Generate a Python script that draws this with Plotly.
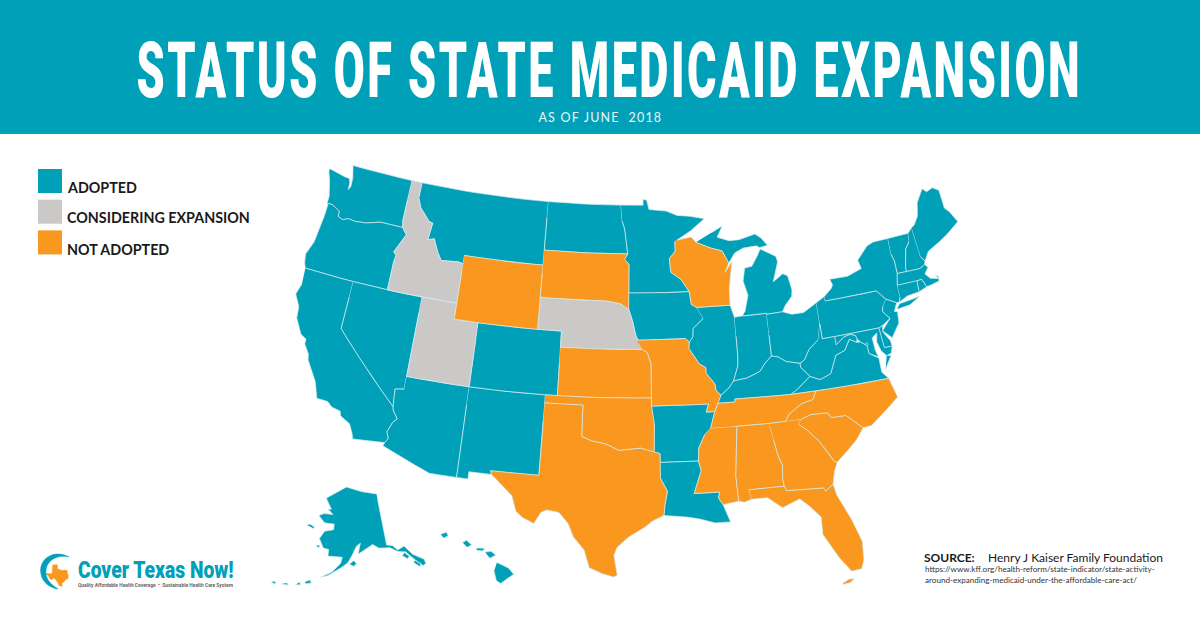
import math
import plotly.graph_objects as go

TEAL = "#00a0b8"
GREY = "#cbc9c7"
ORANGE = "#f9971f"
BORDER = "#d5ecef"

TITLE = "STATUS OF STATE MEDICAID EXPANSION"
SUBTITLE = "AS OF JUNE  2018"
LEGEND_LABELS = ["ADOPTED", "CONSIDERING EXPANSION", "NOT ADOPTED"]
LEGEND_COLORS = [TEAL, GREY, ORANGE]

ADOPTED = ["WA", "OR", "CA", "NV", "AZ", "NM", "CO", "MT", "ND", "MN", "IA", "IL", "IN", "MI", "OH", "PA", "NY", "VT",
           "NH", "ME", "MA", "RI", "CT", "NJ", "DE", "MD", "DC", "VA", "WV", "KY", "AR", "LA", "AK", "HI"]
CONSIDERING = ["ID", "UT", "NE"]
NOT_ADOPTED = ["WY", "SD", "WI", "KS", "MO", "OK", "TX", "MS", "AL", "GA", "SC", "NC", "TN", "FL"]

# state outlines, (lon, lat) rings
WA = [[(-124.73,48.38),(-123.1,48.15),(-122.75,48.15),(-122.6,47.9),(-122.55,47.45),(-122.4,47.7),(-122.45,48.25),(-122.75,49),(-117.03,49),(-117.04,46.42),(-116.92,45.995),(-118.98,46),(-119.3,45.93),(-120.2,45.73),(-121.2,45.65),(-121.8,45.7),(-122.3,45.55),(-122.76,45.65),(-122.8,46),(-123.2,46.15),(-123.55,46.26),(-124.05,46.27),(-124.05,46.7),(-124.15,46.95),(-124.4,47.6),(-124.73,48.17)]]
OR = [[(-124.05,46.27),(-123.55,46.26),(-123.2,46.15),(-122.8,46),(-122.76,45.65),(-122.3,45.55),(-121.8,45.7),(-121.2,45.65),(-120.2,45.73),(-119.3,45.93),(-118.98,46),(-116.92,45.995),(-116.46,45.6),(-116.85,44.97),(-117.22,44.4),(-116.95,44.2),(-117.03,43.8),(-117.03,42),(-124.21,42),(-124.4,42.3),(-124.55,42.84),(-124.15,43.7),(-124.05,44.7),(-123.95,45.5),(-123.95,46.2)]]
CA = [[(-124.21,42),(-120,42),(-120,39),(-114.63,35),(-114.57,34.8),(-114.14,34.3),(-114.43,34.05),(-114.72,33.4),(-114.52,33.03),(-114.72,32.72),(-117.12,32.53),(-117.25,32.85),(-117.6,33.4),(-118.4,33.75),(-118.5,34.03),(-119.2,34.15),(-119.6,34.42),(-120.47,34.45),(-120.65,34.9),(-120.9,35.4),(-121.9,36.6),(-122,36.95),(-122.5,37.5),(-122.5,37.8),(-123,38),(-123.7,38.9),(-123.8,39.6),(-124.35,40.3),(-124.1,41)]]
NV = [[(-120,42),(-114.04,42),(-114.05,36.2),(-114.75,36.1),(-114.63,35),(-120,39)]]
ID = [[(-117.03,49),(-116.05,49),(-116.05,48),(-115.7,47.45),(-114.7,46.7),(-114.35,46.65),(-114.5,45.57),(-113.95,45.7),(-113.45,44.95),(-113,44.45),(-111.5,44.55),(-111.05,44.48),(-111.05,42),(-117.03,42),(-117.03,43.8),(-116.95,44.2),(-117.22,44.4),(-116.85,44.97),(-116.46,45.6),(-116.92,45.995),(-117.04,46.42)]]
MT = [[(-116.05,49),(-104.05,49),(-104.05,45),(-111.05,45),(-111.05,44.48),(-111.5,44.55),(-113,44.45),(-113.45,44.95),(-113.95,45.7),(-114.5,45.57),(-114.35,46.65),(-114.7,46.7),(-115.7,47.45),(-116.05,48)]]
WY = [[(-111.05,45),(-104.05,45),(-104.05,41),(-111.05,41)]]
UT = [[(-114.04,42),(-111.05,42),(-111.05,41),(-109.05,41),(-109.05,37),(-114.05,37)]]
CO = [[(-109.05,41),(-102.05,41),(-102.05,37),(-109.05,37)]]
AZ = [[(-114.05,37),(-109.05,37),(-109.05,31.33),(-111.07,31.33),(-114.81,32.5),(-114.72,32.72),(-114.52,33.03),(-114.72,33.4),(-114.43,34.05),(-114.14,34.3),(-114.57,34.8),(-114.63,35),(-114.75,36.1),(-114.05,36.2)]]
NM = [[(-109.05,37),(-103,37),(-103.04,32),(-106.62,32),(-106.53,31.78),(-108.21,31.78),(-108.21,31.33),(-109.05,31.33)]]
ND = [[(-104.05,49),(-97.23,49),(-97.1,48),(-96.85,47.5),(-96.56,45.94),(-104.05,45.94)]]
SD = [[(-104.05,45.94),(-96.56,45.94),(-96.85,45.6),(-96.45,45.3),(-96.45,43.5),(-96.45,42.5),(-97.2,42.85),(-98.5,43),(-104.05,43)]]
NE = [[(-104.05,43),(-98.5,43),(-97.2,42.85),(-96.45,42.5),(-96.1,41.7),(-95.9,41),(-95.31,40),(-102.05,40),(-102.05,41),(-104.05,41)]]
KS = [[(-102.05,40),(-95.31,40),(-94.9,39.8),(-94.61,39.1),(-94.62,37),(-102.05,37)]]
OK = [[(-103,37),(-94.62,37),(-94.62,36.5),(-94.43,35.4),(-94.48,33.64),(-95.5,33.9),(-97.15,33.75),(-98.1,34.13),(-99.2,34.3),(-100,34.56),(-100,36.5),(-103,36.5)]]
TX = [[(-103,36.5),(-100,36.5),(-100,34.56),(-99.2,34.3),(-98.1,34.13),(-97.15,33.75),(-95.5,33.9),(-94.48,33.64),(-94.04,33.55),(-94.04,33),(-94.04,32),(-93.55,31.2),(-93.75,30.4),(-93.85,29.7),(-94.7,29.35),(-95.2,29),(-96.4,28.35),(-97.2,27.7),(-97.4,27.2),(-97.15,25.96),(-97.4,25.85),(-98.2,26.05),(-99.1,26.4),(-99.5,27.5),(-100.3,28.3),(-100.7,29.1),(-101.4,29.77),(-102.3,29.88),(-102.7,29.7),(-103.15,28.98),(-104,29.3),(-104.5,29.65),(-104.9,30.6),(-106,31.4),(-106.53,31.78),(-106.62,32),(-103.04,32)]]
MN = [[(-97.23,49),(-95.15,49),(-95.15,49.38),(-94.8,49.3),(-94.6,48.72),(-93,48.6),(-92,48.3),(-90.8,48.2),(-89.5,48),(-90.8,47.3),(-92.1,46.75),(-92.3,46.65),(-92.29,46.07),(-92.85,45.6),(-92.75,44.75),(-91.9,44.3),(-91.22,43.5),(-96.45,43.5),(-96.45,45.3),(-96.85,45.6),(-96.56,45.94),(-96.85,47.5),(-97.1,48)]]
IA = [[(-96.45,43.5),(-91.22,43.5),(-91.1,42.7),(-90.65,42.5),(-90.15,41.8),(-91.05,41.2),(-91.1,40.7),(-91.42,40.38),(-91.73,40.61),(-95.77,40.58),(-95.9,41),(-96.1,41.7),(-96.45,42.5)]]
MO = [[(-95.77,40.58),(-91.73,40.61),(-91.42,40.38),(-91.5,40),(-90.7,39),(-90.2,38.75),(-90.2,38.4),(-89.55,37.7),(-89.5,37.3),(-89.13,36.98),(-89.4,36.5),(-89.7,36),(-90.37,36),(-90.15,36.5),(-94.62,36.5),(-94.62,37),(-94.61,39.1),(-94.9,39.8),(-95.31,40)]]
AR = [[(-94.62,36.5),(-90.15,36.5),(-90.37,36),(-89.7,36),(-90.1,35),(-90.6,34.6),(-91.1,33.8),(-91.17,33),(-94.04,33),(-94.04,33.55),(-94.48,33.64),(-94.43,35.4)]]
LA = [[(-94.04,33),(-91.17,33),(-91,32.4),(-91.6,31),(-89.73,31),(-89.85,30.65),(-89.55,30.2),(-89.4,29.8),(-89.1,29.1),(-90.2,29.1),(-91.3,29.4),(-92.2,29.55),(-93.85,29.7),(-93.75,30.4),(-93.55,31.2),(-94.04,32)]]
WI = [[(-92.1,46.75),(-90.8,46.9),(-90.4,46.55),(-89.1,46.13),(-88.1,45.9),(-87.8,45.35),(-87.6,45.1),(-88,44.55),(-87.3,45.2),(-87.55,44.3),(-87.75,43.5),(-87.8,42.49),(-90.65,42.5),(-91.1,42.7),(-91.22,43.5),(-91.9,44.3),(-92.75,44.75),(-92.85,45.6),(-92.29,46.07),(-92.3,46.65)]]
IL = [[(-90.65,42.5),(-87.8,42.49),(-87.53,41.72),(-87.53,39.35),(-87.6,38.7),(-88.05,37.8),(-88.45,37.4),(-89.13,36.98),(-89.5,37.3),(-89.55,37.7),(-90.2,38.4),(-90.2,38.75),(-90.7,39),(-91.5,40),(-91.42,40.38),(-91.1,40.7),(-91.05,41.2),(-90.15,41.8)]]
IN = [[(-87.53,41.72),(-87.2,41.76),(-86.82,41.76),(-84.8,41.76),(-84.81,39.1),(-85.4,38.7),(-85.85,38.25),(-86.3,38.1),(-87,37.9),(-88.05,37.8),(-87.6,38.7),(-87.53,39.35)]]
OH = [[(-84.8,41.7),(-83.45,41.73),(-82.7,41.5),(-81.7,41.5),(-80.52,41.98),(-80.52,40.64),(-80.85,39.7),(-81.7,39.2),(-82.2,38.6),(-82.6,38.42),(-83.7,38.65),(-84.3,39),(-84.81,39.1)]]
KY = [[(-89.4,36.5),(-88.07,36.5),(-88.07,36.68),(-83.68,36.6),(-83.1,36.85),(-81.97,37.54),(-82.6,38.17),(-82.6,38.42),(-83.7,38.65),(-84.3,39),(-84.81,39.1),(-85.4,38.7),(-85.85,38.25),(-86.3,38.1),(-87,37.9),(-88.05,37.8),(-88.45,37.4),(-89.13,36.98)]]
TN = [[(-90.1,35),(-89.7,36),(-89.4,36.5),(-88.07,36.5),(-88.07,36.68),(-83.68,36.6),(-81.68,36.59),(-82,36.1),(-82.9,35.95),(-84,35.4),(-84.32,34.99),(-85.6,34.98),(-88.2,35)]]
MS = [[(-90.1,35),(-88.2,35),(-88.1,34.9),(-88.47,31.9),(-88.4,30.35),(-89.55,30.2),(-89.85,30.65),(-89.73,31),(-91.6,31),(-91,32.4),(-91.17,33),(-91.1,33.8),(-90.6,34.6)]]
AL = [[(-88.2,35),(-85.6,34.98),(-85.18,32.87),(-84.95,32.3),(-85.05,31.55),(-85,31),(-87.6,31),(-87.45,30.4),(-88,30.25),(-88.4,30.35),(-88.47,31.9),(-88.1,34.9)]]
GA = [[(-85.6,34.98),(-83.1,35),(-83.35,34.7),(-82.8,34.3),(-82,33.5),(-81.4,32.6),(-81.1,32.1),(-80.9,32.03),(-81.2,31.5),(-81.45,30.72),(-82.05,30.36),(-82.2,30.57),(-84.86,30.7),(-85,31),(-85.05,31.55),(-84.95,32.3),(-85.18,32.87)]]
FL = [[(-87.6,31),(-85,31),(-84.86,30.7),(-82.2,30.57),(-82.05,30.36),(-81.45,30.72),(-81.3,30),(-80.55,28.4),(-80.05,26.9),(-80.15,25.75),(-80.4,25.2),(-81.1,25.15),(-81.8,26.1),(-82.7,27.7),(-82.65,28.8),(-83.4,29.6),(-84,30.1),(-85.3,29.68),(-86.3,30.4),(-87.45,30.4)],
      [(-81.85,24.4),(-81.3,24.45),(-81,24.65),(-81.35,24.68),(-81.8,24.5)]]
SC = [[(-83.1,35),(-82.3,35.2),(-81.05,35.15),(-80.8,34.82),(-79.67,34.8),(-78.55,33.86),(-79.2,33.2),(-79.9,32.7),(-80.9,32.03),(-81.1,32.1),(-81.4,32.6),(-82,33.5),(-82.8,34.3),(-83.35,34.7)]]
NC = [[(-84.32,34.99),(-84,35.4),(-82.9,35.95),(-82,36.1),(-81.68,36.59),(-75.87,36.55),(-75.5,35.3),(-76.5,34.7),(-77.9,33.9),(-78.55,33.86),(-79.67,34.8),(-80.8,34.82),(-81.05,35.15),(-82.3,35.2),(-83.1,35)]]
VA = [[(-83.68,36.6),(-81.68,36.59),(-75.87,36.55),(-76.3,37),(-76.3,37.9),(-77,38.3),(-77.04,38.8),(-77.5,39.1),(-77.8,39.13),(-78.35,39.4),(-78.87,38.77),(-79.65,38.58),(-80.3,37.5),(-81.2,37.25),(-81.97,37.54),(-83.1,36.85)],
      [(-75.95,37.15),(-75.3,37.9),(-75.65,37.95)]]
WV = [[(-80.52,40.64),(-80.52,39.72),(-79.48,39.72),(-79.48,39.2),(-78.75,39.6),(-78.2,39.68),(-77.8,39.55),(-77.72,39.32),(-77.8,39.13),(-78.35,39.4),(-78.87,38.77),(-79.65,38.58),(-80.3,37.5),(-81.2,37.25),(-81.97,37.54),(-82.6,38.17),(-82.6,38.42),(-82.2,38.6),(-81.7,39.2),(-80.85,39.7)]]
MD = [[(-79.48,39.72),(-75.79,39.72),(-75.69,38.46),(-75.05,38.45),(-75.25,38.03),(-75.65,37.95),(-76,38.3),(-76.2,38.9),(-76.05,39.45),(-76.5,39.2),(-76.45,38.4),(-76.3,37.97),(-77,38.3),(-77.04,38.8),(-77.5,39.1),(-77.72,39.32),(-77.8,39.55),(-78.2,39.68),(-78.75,39.6),(-79.48,39.2)]]
DE = [[(-75.79,39.72),(-75.45,39.82),(-75.55,39.45),(-75.1,38.8),(-75.05,38.45),(-75.69,38.46)]]
PA = [[(-80.52,41.98),(-79.76,42.27),(-79.76,42),(-75.35,42),(-74.7,41.36),(-75.1,40.95),(-75.2,40.65),(-74.72,40.15),(-75.45,39.82),(-75.79,39.72),(-80.52,39.72),(-80.52,40.64)]]
NJ = [[(-74.7,41.36),(-73.9,41),(-74.25,40.5),(-74,40.45),(-74.1,39.75),(-74.9,38.95),(-75.55,39.5),(-74.72,40.15),(-75.2,40.65),(-75.1,40.95)]]
NY = [[(-79.76,42.27),(-79.05,42.7),(-78.9,42.9),(-79.05,43.27),(-77.5,43.25),(-76.2,43.55),(-76.35,44.1),(-75.3,44.85),(-74.7,45),(-73.35,45.01),(-73.4,44),(-73.25,43.55),(-73.27,42.75),(-73.5,42.05),(-73.5,41.3),(-73.65,41),(-73.9,41),(-74.7,41.36),(-75.35,42),(-79.76,42)],
      [(-74,40.6),(-73.7,40.9),(-72.6,40.98),(-71.9,41.05),(-72.8,40.7)]]
VT = [[(-73.35,45.01),(-71.5,45.01),(-71.6,44.5),(-72.05,44.1),(-72.45,43),(-72.46,42.73),(-73.27,42.75),(-73.25,43.55),(-73.4,44)]]
NH = [[(-71.5,45.01),(-71.08,45.3),(-70.98,43.4),(-70.7,43.07),(-70.82,42.87),(-71.3,42.7),(-72.46,42.73),(-72.45,43),(-72.05,44.1),(-71.6,44.5)]]
ME = [[(-71.08,45.3),(-70.8,45.4),(-70.3,45.9),(-70,46.7),(-69.23,47.46),(-68.9,47.2),(-68.3,47.35),(-67.79,47.07),(-67.78,45.9),(-67.45,45.6),(-67,44.85),(-68.2,44.3),(-69,44),(-70.2,43.6),(-70.7,43.07),(-70.98,43.4)]]
MA = [[(-73.5,42.05),(-73.27,42.75),(-72.46,42.73),(-71.3,42.7),(-70.82,42.87),(-70.6,42.65),(-71,42.3),(-70.65,41.95),(-70,41.8),(-70.2,42.08),(-69.95,41.9),(-70,41.65),(-70.65,41.55),(-71.13,41.5),(-71.38,42.02),(-71.8,42.02)]]
RI = [[(-71.8,42.02),(-71.38,42.02),(-71.13,41.5),(-71.85,41.32)]]
CT = [[(-73.5,42.05),(-71.8,42.02),(-71.85,41.32),(-72.9,41.25),(-73.65,41),(-73.5,41.3)]]
MI = [[(-86.82,41.76),(-84.8,41.76),(-84.8,41.7),(-83.45,41.73),(-83.15,42.1),(-82.5,42.6),(-82.4,43),(-82.6,43.9),(-83,44.07),(-83.9,43.65),(-83.3,44.85),(-83.4,45.2),(-84.7,45.78),(-85,45.4),(-85.6,44.77),(-86.25,44.7),(-86.5,43.9),(-86.2,43),(-86.6,42)],
      [(-90.4,46.55),(-89.1,46.13),(-88.1,45.9),(-87.8,45.35),(-87.6,45.1),(-87,45.7),(-86.2,45.95),(-85,46),(-84.75,45.87),(-84,45.95),(-84.5,46.45),(-85,46.75),(-86.5,46.5),(-87.4,46.5),(-88.45,46.78),(-87.9,47.45),(-88.9,47.1)]]
DC = [[(-77.12,38.93),(-77.04,39),(-76.91,38.89),(-77.04,38.79)]]
AK = [[(-141,69.65),(-148,70.4),(-156.5,71.35),(-162,70.2),(-166.2,68.9),(-163,67.1),(-164.5,67),(-162,66.2),(-166,66.1),(-168,65.6),(-165,64.5),(-161,64.5),(-161,63.5),(-164.5,63),(-166,61.6),(-164,60),(-162,59.9),(-162,58.7),(-158,58.8),(-157,58.7),(-157.5,57.6),(-160,56),(-163.5,54.8),(-161.5,55.2),(-158,56.5),(-155,57.8),(-153.5,59.2),(-152,60.7),(-150.5,61.2),(-151.5,59.3),(-149,60),(-146,60.8),(-144,60),(-140,59.7),(-137.5,58.7),(-135,58.3),(-133,56.5),(-131,55),(-130,55.2),(-130,56),(-133,57.5),(-135,59.4),(-137.5,59),(-139,60),(-141,60.3)],
      [(-154.5,57.5),(-153,57.1),(-152.2,57.6),(-153,58.1)],
      [(-167.5,53.2),(-166,53.5),(-166.5,54),(-168,53.5)],
      [(-170.5,52.6),(-169,52.8),(-169.5,53.2)],
      [(-174.5,52),(-172.5,52.2),(-173,52.5)],
      [(-177.5,51.7),(-176,51.7),(-176.5,52.1)],
      [(-172,63.4),(-169,63.1),(-168.8,63.4),(-170.5,63.7)],
      [(-166.8,60.2),(-165.5,59.9),(-165.5,60.4)],
      [(-136.5,57.8),(-135,57),(-134.3,57.4),(-135.5,58.2)],
      [(-133.5,56),(-132,55),(-131.5,55.5),(-133,56.4)]]
HI = [[(-155.9,20.27),(-155.1,19.9),(-154.75,19.5),(-155.65,18.9),(-155.95,19.1),(-156.1,19.7)],
      [(-156.7,20.95),(-156.3,21),(-155.98,20.75),(-156.4,20.55),(-156.6,20.8)],
      [(-157.3,21.22),(-156.72,21.2),(-156.9,21.03),(-157.3,21.08)],
      [(-158.28,21.57),(-158,21.72),(-157.65,21.42),(-157.95,21.27)],
      [(-159.8,22.12),(-159.4,22.25),(-159.28,22),(-159.6,21.87)]]

SHAPES = {"WA": WA, "OR": OR, "CA": CA, "NV": NV, "ID": ID, "MT": MT, "WY": WY, "UT": UT, "CO": CO, "AZ": AZ, "NM": NM,
          "ND": ND, "SD": SD, "NE": NE, "KS": KS, "OK": OK, "TX": TX, "MN": MN, "IA": IA, "MO": MO, "AR": AR, "LA": LA,
          "WI": WI, "IL": IL, "IN": IN, "OH": OH, "KY": KY, "TN": TN, "MS": MS, "AL": AL, "GA": GA, "FL": FL, "SC": SC,
          "NC": NC, "VA": VA, "WV": WV, "MD": MD, "DE": DE, "PA": PA, "NJ": NJ, "NY": NY, "VT": VT, "NH": NH, "ME": ME,
          "MA": MA, "RI": RI, "CT": CT, "MI": MI, "DC": DC, "AK": AK, "HI": HI}


def albers(lon, lat, lon0, lat0, p1, p2):
    # conic equal-area, radians out on the unit sphere
    s1, s2 = math.sin(math.radians(p1)), math.sin(math.radians(p2))
    n = (s1 + s2) / 2
    c = math.cos(math.radians(p1)) ** 2 + 2 * n * s1
    rho = math.sqrt(c - 2 * n * math.sin(math.radians(lat))) / n
    rho0 = math.sqrt(c - 2 * n * math.sin(math.radians(lat0))) / n
    theta = n * math.radians(lon - lon0)
    return rho * math.sin(theta), rho0 - rho * math.cos(theta)


# projection per panel: lon0, lat0, parallels, scale, pixel position of the origin
PANELS = {
    "main": (-96, 37.5, 29.5, 45.5, 918, 634, 390),
    "AK": (-154, 62, 55, 65, 320, 351, 539),
    "HI": (-157, 20.5, 8, 18, 880, 481, 559),
    "logo": (-99, 31.5, 29.5, 45.5, 115, 59, 575),
}


def ring_xy(rings, panel):
    lon0, lat0, p1, p2, k, tx, ty = PANELS[panel]
    xs, ys = [], []
    for ring in rings:
        closed = ring + [ring[0]]
        for (a, b), (c, d) in zip(closed, closed[1:]):
            # long edges follow the parallels, so split them before projecting
            steps = max(1, int(max(abs(c - a), abs(d - b))))
            for i in range(steps):
                t = i / steps
                x, y = albers(a + (c - a) * t, b + (d - b) * t, lon0, lat0, p1, p2)
                xs.append(tx + k * x)
                ys.append(ty - k * y)
        xs.append(None)
        ys.append(None)
    return xs, ys


fig = go.Figure()
for names, color in zip([ADOPTED, CONSIDERING, NOT_ADOPTED], LEGEND_COLORS):
    for st in names:
        panel = st if st in ("AK", "HI") else "main"
        xs, ys = ring_xy(SHAPES[st], panel)
        fig.add_trace(go.Scatter(x=xs, y=ys, mode="lines", fill="toself", fillcolor=color, name=st,
                                 line=dict(color=BORDER, width=0.7), hoverinfo="name", showlegend=False))

# logo texas
xs, ys = ring_xy(TX, "logo")
fig.add_trace(go.Scatter(x=xs, y=ys, mode="lines", fill="toself", fillcolor=ORANGE, line=dict(color=ORANGE, width=0.5),
                         hoverinfo="skip", showlegend=False))

shapes = [dict(type="rect", x0=0, x1=1200, y0=0, y1=134, fillcolor=TEAL, line_width=0, layer="below")]
for i, color in enumerate(LEGEND_COLORS):
    y0 = 169 + i * 30.7
    shapes.append(dict(type="rect", x0=38, x1=62, y0=y0, y1=y0 + 24, fillcolor=color, line_width=0))
# logo swoosh
shapes.append(dict(type="path", path="M 69 557 C 55 549 38 558 41 574 C 42 582 50 588 58 589 C 50 584 45 578 46 570 C 47 560 58 554 69 557 Z",
                   fillcolor=TEAL, line=dict(color=TEAL, width=0.5)))


def label(x, y, text, size, color="#1a1a1a", font="Lato", anchor="left", weight=None):
    return dict(x=x, y=y, xref="x", yref="y", text=text, showarrow=False, xanchor=anchor, yanchor="middle",
                font=dict(family=font, size=size, color=color, weight=weight))


annotations = [
    label(609, 70, TITLE, 45, "white", "Roboto", "center", 900),
    label(600, 117, SUBTITLE, 12.5, "#e6f6f8", "Lato", "center"),
    label(65, 187, "<b>" + LEGEND_LABELS[0] + "</b>", 14.3),
    label(65, 217.5, "<b>" + LEGEND_LABELS[1] + "</b>", 14.3),
    label(65, 249, "<b>" + LEGEND_LABELS[2] + "</b>", 14.3),
    label(922, 557, "<b>SOURCE:</b>", 12),
    label(986, 557, "Henry J Kaiser Family Foundation", 12),
    label(923, 569, "https://www.kff.org/health-reform/state-indicator/state-activity-", 8.1, "#333333"),
    label(923, 580, "around-expanding-medicaid-under-the-affordable-care-act/", 8.1, "#333333"),
    label(76, 569, "Cover Texas Now!", 19.3, TEAL, "Roboto", "left", 900),
    label(76, 585, "<b>Quality Affordable Health Coverage  •  Sustainable Health Care System</b>", 4.9, "#666666", "Roboto"),
]

fig.update_layout(
    width=1200, height=628, margin=dict(l=0, r=0, t=0, b=0),
    paper_bgcolor="white", plot_bgcolor="white",
    xaxis=dict(range=[0, 1200], visible=False, fixedrange=True),
    yaxis=dict(range=[628, 0], visible=False, fixedrange=True),
    shapes=shapes, annotations=annotations,
)

# page margin off; the title and logo faces are taller than any installed font
tweaks = """
document.body.style.margin = '0';
var texts = document.querySelectorAll('.annotation-text');
function stretch(t, sy, gap) {
  t.style.transformBox = 'fill-box'; t.style.transformOrigin = 'center';
  t.style.transform = 'scaleY(' + sy + ')'; t.style.letterSpacing = gap;
}
stretch(texts[0], 1.75, '2.5px');
stretch(texts[1], 1, '1.2px');
stretch(texts[9], 1.25, '0px');
"""
fig.write_html("out.html", post_script=tweaks, config={"displayModeBar": False})
